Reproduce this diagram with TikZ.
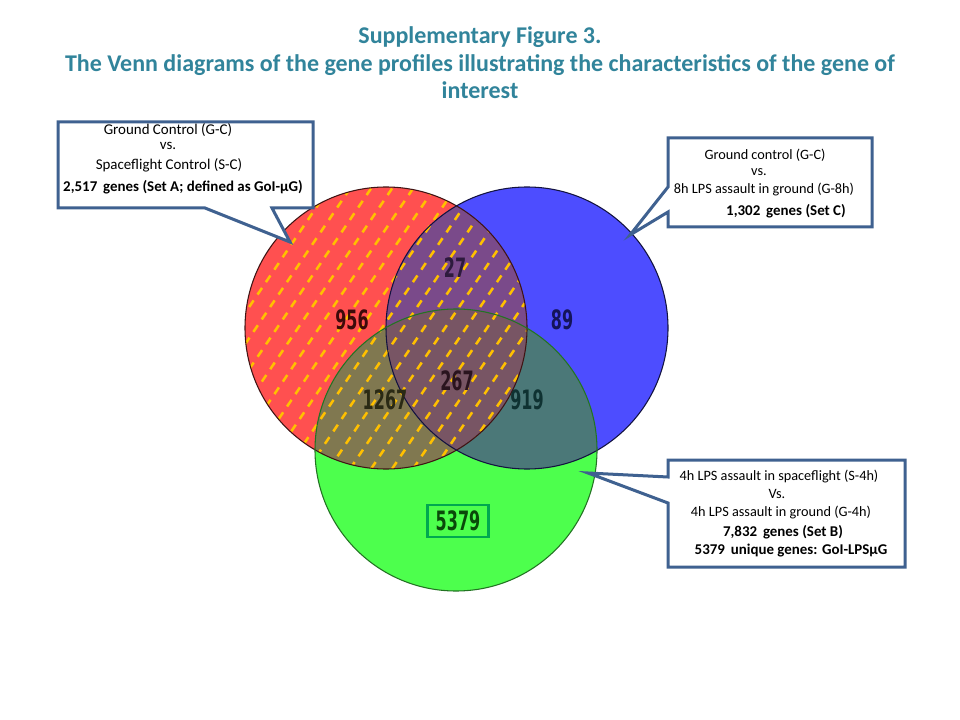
\documentclass[tikz,border=0pt]{standalone}
\usepackage{fontspec}
\usepackage{graphicx}
\setmainfont{Carlito}
\newfontfamily\numfont[FakeStretch=0.6]{DejaVu Sans}
\definecolor{titleteal}{HTML}{31849B}
\definecolor{calloutblue}{HTML}{3F6190}
\definecolor{setA}{HTML}{FF5050}
\definecolor{setC}{HTML}{4D4DFF}
\definecolor{setB}{HTML}{4DFF4D}
\definecolor{regAC}{HTML}{7A4A8A}
\definecolor{regAB}{HTML}{807850}
\definecolor{regBC}{HTML}{4B7878}
\definecolor{regABC}{HTML}{785564}
\definecolor{hatchgold}{HTML}{FFC000}
\definecolor{numA}{HTML}{3D0A0A}
\definecolor{numAC}{HTML}{2D1A3D}
\definecolor{numC}{HTML}{14145A}
\definecolor{numAB}{HTML}{2A2A14}
\definecolor{numABC}{HTML}{2A141E}
\definecolor{numBC}{HTML}{0F3232}
\definecolor{numB}{HTML}{0A4A0A}
\definecolor{boxgreen}{HTML}{00A850}
\begin{document}
\begin{tikzpicture}[x=0.75pt,y=-0.75pt,
  callout/.style={draw=calloutblue, line width=2.25pt, fill=white, line join=miter},
  ctext/.style={inner sep=0pt, font=\fontsize{11.2}{13}\selectfont},
  ctextn/.style={inner sep=0pt, font=\fontsize{10.7}{13}\selectfont},
  btext/.style={inner sep=0pt, font=\fontsize{11.2}{13}\selectfont\bfseries},
  num/.style={inner sep=0pt, font=\numfont\bfseries\fontsize{20}{20}\selectfont},
  hatch/.style={draw=hatchgold, line width=1.9pt, dash pattern=on 6pt off 5.25pt},
  outline/.style={line width=0.8pt}]
\useasboundingbox (0,0) rectangle (960,720);
\fill[white] (0,0) rectangle (960,720);

% title
\node[font=\fontsize{18}{20.5}\selectfont\bfseries, text=titleteal, align=center, inner sep=0pt] (title) at (480,63)
  {Supplementary Figure 3.\\The Venn diagrams of the gene profiles illustrating the characteristics of the gene of\\interest};

% circles
\coordinate (cA) at (386,328);
\coordinate (cC) at (527,328);
\coordinate (cB) at (456,450);
\def\R{105.75pt}
\fill[setA] (cA) circle[radius=\R];
\fill[setC] (cC) circle[radius=\R];
\fill[setB] (cB) circle[radius=\R];
\begin{scope}\clip (cA) circle[radius=\R]; \fill[regAC] (cC) circle[radius=\R]; \end{scope}
\begin{scope}\clip (cA) circle[radius=\R]; \fill[regAB] (cB) circle[radius=\R]; \end{scope}
\begin{scope}\clip (cC) circle[radius=\R]; \fill[regBC] (cB) circle[radius=\R]; \end{scope}
\begin{scope}\clip (cA) circle[radius=\R]; \clip (cC) circle[radius=\R]; \fill[regABC] (cB) circle[radius=\R]; \end{scope}
% hatch over set A
\begin{scope}
\clip (cA) circle[radius=\R];
\foreach \c in {130,151,...,660} {\draw[hatch] (\c-120,506) -- (\c+120,150);}
\end{scope}
% outlines
\draw[outline, draw=black!75!setA] (cA) circle[radius=\R];
\draw[outline, draw=black!75!setC] (cC) circle[radius=\R];
\draw[outline, draw=black!55!setB] (cB) circle[radius=\R];

% numbers
\node[num, text=numA] (n956) at (352,320) {956};
\node[num, text=numAC] (n27) at (455,268) {27};
\node[num, text=numC] (n89) at (562,320) {89};
\node[num, text=numAB] (n1267) at (385,400) {1267};
\node[num, text=numABC] (n267) at (457,381) {267};
\node[num, text=numBC] (n919) at (527,400) {919};
\node[num, text=numB, draw=boxgreen, line width=2pt, minimum width=45.75pt, minimum height=24pt] (n5379) at (458,521) {5379};

% callout 1
\coordinate (p1) at (290,242);
\draw[callout] (58,122) -- (313,122) -- (313,208) -- (272,208) -- (p1) -- (205,208) -- (58,208) -- cycle;
\node[ctext] (a1) at (168,130) {Ground Control (G-C)};
\node[ctext] (a2) at (168,146) {vs.};
\node[ctext] (a3) at (169,165) {Spaceflight Control (S-C)};
\node[btext] (a4) at (183,187) {2,517\, genes (Set A; defined as GoI-µG)};

% callout 2
\coordinate (p2) at (630,235);
\draw[callout] (668,138) -- (872,138) -- (872,227) -- (668,227) -- (668,212) -- (p2) -- (668,187) -- cycle;
\node[ctextn] (c1) at (765,155) {Ground control (G-C)};
\node[ctextn] (c2) at (759,172) {vs.};
\node[ctextn] (c3) at (764,190) {8h LPS assault in ground (G-8h)};
\node[btext] (c4) at (786,211) {1,302\, genes (Set C)};

% callout 3
\coordinate (p3) at (588,473);
\draw[callout] (668,460) -- (905,460) -- (905,567) -- (668,567) -- (668,503) -- (p3) -- (668,477) -- cycle;
\node[ctextn] (b1) at (779,477) {4h LPS assault in spaceflight (S-4h)};
\node[ctextn] (b2) at (777,494) {Vs.};
\node[ctextn] (b3) at (781,513) {4h LPS assault in ground (G-4h)};
\node[btext] (b4) at (783,532) {7,832\, genes (Set B)};
\node[btext] (b5) at (791,551) {5379\, unique genes: GoI-LPSµG};
\end{tikzpicture}
\end{document}
